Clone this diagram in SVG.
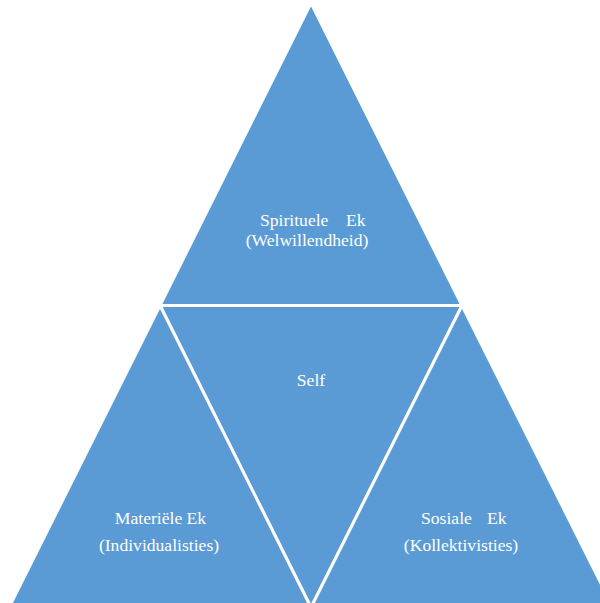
<svg xmlns="http://www.w3.org/2000/svg" width="600" height="603" viewBox="0 0 600 603">
<style>
.tri{fill:#5B9BD5;stroke:#FFFFFF;stroke-width:3;stroke-linejoin:miter}
text{font-family:'Liberation Serif','Times New Roman',serif;font-size:17.6px;fill:#FFFFFF;text-anchor:middle}
.st{text-anchor:start}
</style>
<rect width="600" height="603" fill="#FFFFFF"/>
<g id="connectors"></g>
<g id="spirituele">
<polygon class="tri" points="311,3 160,305.5 462,305.5"/>
<text class="st" y="226"><tspan x="260">Spirituele </tspan><tspan x="346">Ek</tspan></text>
<text x="307" y="246">(Welwillendheid)</text>
</g>
<g id="self">
<polygon class="tri" points="160,305.5 462,305.5 311,607.5"/>
<text x="311" y="386">Self</text>
</g>
<g id="materiele">
<polygon class="tri" points="160,305.5 311,607.5 9,607.5"/>
<text x="160.5" y="524">Materiële Ek</text>
<text x="159" y="551">(Individualisties)</text>
</g>
<g id="sosiale">
<polygon class="tri" points="462,305.5 613,607.5 311,607.5"/>
<text class="st" y="524"><tspan x="421">Sosiale </tspan><tspan x="487">Ek</tspan></text>
<text x="461" y="551">(Kollektivisties)</text>
</g>
</svg>
